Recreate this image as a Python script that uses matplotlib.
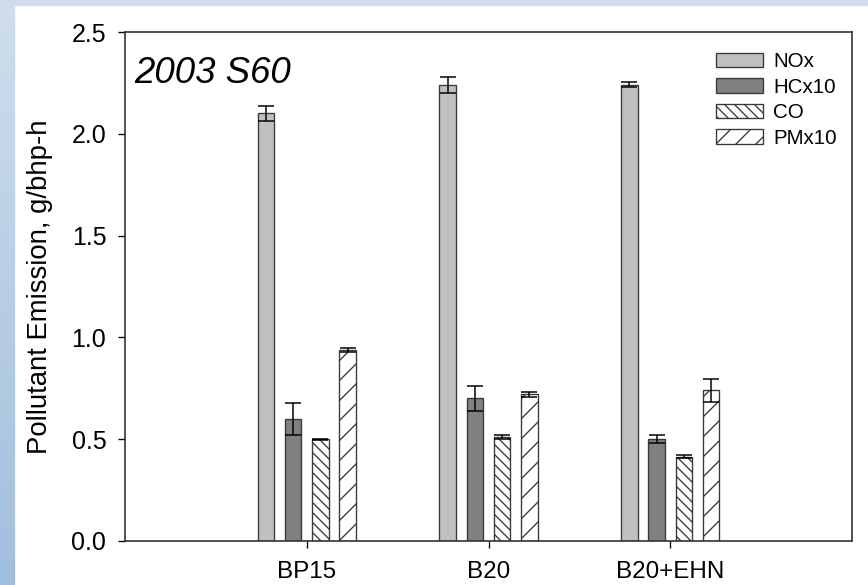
import numpy as np
import matplotlib
matplotlib.use('Agg')
import matplotlib.pyplot as plt
from matplotlib.patches import Rectangle

plt.rcParams['font.family'] = ['Liberation Sans', 'DejaVu Sans']
plt.rcParams['hatch.linewidth'] = 0.8

fuels = ['BP15', 'B20', 'B20+EHN']
series = ['NOx', 'HCx10', 'CO', 'PMx10']

nox = [2.10, 2.24, 2.24]
nox_err = [0.035, 0.04, 0.012]
hc = [0.60, 0.70, 0.50]
hc_err = [0.08, 0.06, 0.02]
co = [0.50, 0.51, 0.415]
co_err = [0.003, 0.01, 0.006]
pm = [0.94, 0.72, 0.74]
pm_err = [0.01, 0.012, 0.055]

values = [nox, hc, co, pm]
errors = [nox_err, hc_err, co_err, pm_err]
fills = ['#c0c0c0', '#808080', 'white', 'white']
hatches = [None, None, '\\\\\\\\', '//']

W, H, DPI = 868, 585, 120
fig = plt.figure(figsize=(W / DPI, H / DPI), dpi=DPI)

# light blue backdrop, darker towards the lower left
bg = fig.add_axes([0, 0, 1, 1], zorder=-10)
yy, xx = np.mgrid[0:1:200j, 0:1:200j]
top = np.array([0.81, 0.87, 0.93])
bot = np.array([0.63, 0.75, 0.87])
t = yy[..., None] * (1 - 0.4 * xx[..., None])
img = top * (1 - t) + bot * t
bg.imshow(img, extent=[0, 1, 0, 1], aspect='auto', origin='upper')
bg.add_patch(Rectangle((16 / W, 0), 1, 1 - 7 / H, color='white'))
bg.set_xlim(0, 1)
bg.set_ylim(0, 1)
bg.axis('off')

ax = fig.add_axes([125 / W, 1 - 541 / H, (852 - 125) / W, (541 - 32) / H])

x = np.arange(1, len(fuels) + 1)
width = 0.09
offsets = [-0.225, -0.075, 0.075, 0.225]

for vals, errs, fc, hatch, off, name in zip(values, errors, fills, hatches, offsets, series):
    ax.bar(x + off, vals, width, color=fc, edgecolor='#383838', linewidth=0.8,
           hatch=hatch, label=name, zorder=2)
    ax.errorbar(x + off, vals, yerr=errs, fmt='none', ecolor='black',
                elinewidth=0.9, capsize=4.6, capthick=0.9, zorder=3)

ax.set_xlim(0, 4)
ax.set_ylim(0, 2.5)
ax.set_xticks(x)
ax.set_xticklabels(fuels)
ax.set_yticks(np.arange(0, 2.51, 0.5))
ax.set_yticklabels(['%.1f' % v for v in np.arange(0, 2.51, 0.5)])
ax.tick_params(direction='out', length=4.2, width=0.8, labelsize=15, pad=7,
               top=False, right=False)
ax.tick_params(axis='x', labelsize=14.5, pad=7.5)
for sp in ax.spines.values():
    sp.set_linewidth(1.0)
    sp.set_color('#333333')

ax.set_ylabel('Pollutant Emission, g/bhp-h', fontsize=16.5, labelpad=11)

ax.text(0.012, 0.900, '2003 S60', transform=ax.transAxes, fontsize=22,
        fontstyle='italic', ha='left', va='baseline')

ax.legend(loc='upper left', bbox_to_anchor=((716 - 125) / (852 - 125), 1 - 20 / 509),
          frameon=False, fontsize=12.3, handlelength=2.3, handleheight=0.7,
          handletextpad=0.5, labelspacing=0.32, borderpad=0, borderaxespad=0)

fig.savefig('out.png', dpi=DPI)
